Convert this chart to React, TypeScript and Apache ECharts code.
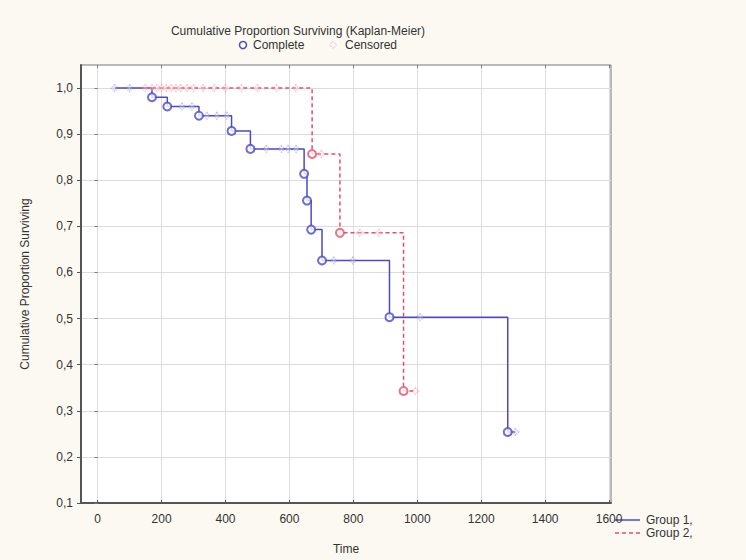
import React, { useEffect, useRef } from "react";
import * as echarts from "echarts";

// Group 1: event times (deaths) and the survival estimate right after each one
const g1EventTime = [170, 218, 317, 419, 478, 646, 655, 668, 702, 913, 1283];
const g1Survival = [0.98, 0.96, 0.94, 0.907, 0.868, 0.814, 0.756, 0.693, 0.626, 0.503, 0.254];
// Group 1: censored observation times
const g1Censored = [53, 100, 264, 295, 342, 373, 404, 528, 575, 596, 621, 739, 798, 1009, 1307];

// Group 2
const g2EventTime = [671, 758, 957];
const g2Survival = [0.857, 0.686, 0.343];
const g2Censored = [149, 170, 185, 200, 215, 230, 245, 260, 280, 300, 330, 365, 400, 450, 500, 560, 620, 700, 820, 880, 994];

const xTicks = [0, 200, 400, 600, 800, 1000, 1200, 1400, 1600];
const yTicks = [0.1, 0.2, 0.3, 0.4, 0.5, 0.6, 0.7, 0.8, 0.9, 1.0];

const BLUE = "#4a4ac8";
const RED = "#e4506a";
const FONT = "Liberation Sans, Arial, sans-serif";
const TEXT = "#333";

function survivalAt(t: number, times: number[], surv: number[]): number {
  let s = 1;
  for (let i = 0; i < times.length; i++) if (times[i] <= t) s = surv[i];
  return s;
}

function stepCurve(times: number[], surv: number[], censored: number[]) {
  const start = Math.min(censored[0], times[0]);
  const end = Math.max(censored[censored.length - 1], times[times.length - 1]);
  const pts: number[][] = [[start, 1]];
  times.forEach((t, i) => pts.push([t, surv[i]]));
  pts.push([end, survivalAt(end, times, surv)]);
  return pts;
}

export default function App() {
  const ref = useRef<HTMLDivElement>(null);

  useEffect(() => {
    if (!ref.current) return;
    const chart = echarts.init(ref.current, null, { renderer: "svg" });

    const fmtY = (v: number) => v.toFixed(1).replace(".", ",");
    const fmtX = (v: number) => String(Math.round(v));
    const legendText = (x: number, y: number, text: string) => ({
      type: "text",
      x,
      y,
      style: { text, font: `12px ${FONT}`, fill: TEXT, verticalAlign: "middle" },
    });

    chart.setOption({
      animation: false,
      backgroundColor: "#fcf9f2",
      textStyle: { fontFamily: FONT, color: TEXT },
      title: {
        text: "Cumulative Proportion Surviving (Kaplan-Meier)",
        left: 293,
        top: 20,
        textAlign: "center",
        textStyle: { fontFamily: FONT, fontSize: 12, fontWeight: "normal", color: TEXT },
      },
      graphic: [
        // header key: complete vs censored markers
        {
          type: "circle",
          shape: { cx: 243, cy: 45, r: 3.5 },
          style: { fill: "#fff", stroke: BLUE, lineWidth: 1.5 },
        },
        legendText(253, 45, "Complete"),
        {
          type: "polygon",
          shape: { points: [[333, 41.5], [336.5, 45], [333, 48.5], [329.5, 45]] },
          style: { fill: "none", stroke: "#c9a9b8", lineWidth: 1, lineDash: [1, 1] },
        },
        legendText(345, 45, "Censored"),
        // group key in the lower right corner
        {
          type: "line",
          shape: { x1: 615, y1: 520, x2: 640, y2: 520 },
          style: { stroke: BLUE, lineWidth: 1.5 },
        },
        legendText(646, 520, "Group 1,"),
        {
          type: "line",
          shape: { x1: 615, y1: 533, x2: 640, y2: 533 },
          style: { stroke: RED, lineWidth: 1.5, lineDash: [4, 3] },
        },
        legendText(646, 533, "Group 2,"),
      ],
      grid: {
        left: 81,
        right: 135,
        top: 65,
        bottom: 57,
        show: true,
        backgroundColor: "#ffffff",
        borderColor: "#777",
        borderWidth: 1,
      },
      xAxis: [
        {
          type: "value",
          min: -52,
          max: 1606,
          name: "Time",
          nameLocation: "middle",
          nameGap: 40,
          nameTextStyle: { fontFamily: FONT, fontSize: 12, color: TEXT },
          axisLine: { show: true, onZero: false, lineStyle: { color: "#555", width: 2 } },
          axisTick: { show: true, inside: true, length: 3, customValues: xTicks, lineStyle: { color: "#555" } },
          axisLabel: {
            customValues: xTicks,
            margin: 10,
            fontFamily: FONT,
            fontSize: 12,
            color: TEXT,
            formatter: fmtX,
          },
          splitLine: { show: true, lineStyle: { color: "#dcdcdc", width: 1 } },
        },
        {
          type: "value",
          position: "top",
          min: -52,
          max: 1606,
          axisLine: { show: false },
          axisTick: { show: true, inside: true, length: 3, customValues: xTicks, lineStyle: { color: "#777" } },
          axisLabel: { show: false },
          splitLine: { show: false },
        },
      ],
      yAxis: [
        {
          type: "value",
          min: 0.1,
          max: 1.05,
          name: "Cumulative Proportion Surviving",
          nameLocation: "middle",
          nameGap: 50,
          nameTextStyle: { fontFamily: FONT, fontSize: 12, color: TEXT },
          axisLine: { show: true, onZero: false, lineStyle: { color: "#555", width: 2 } },
          axisTick: { show: true, inside: false, length: 4, customValues: yTicks, lineStyle: { color: "#555" } },
          axisLabel: {
            customValues: yTicks,
            margin: 8,
            fontFamily: FONT,
            fontSize: 12,
            color: TEXT,
            formatter: fmtY,
          },
          splitLine: { show: true, lineStyle: { color: "#dcdcdc", width: 1 } },
        },
        {
          type: "value",
          position: "right",
          min: 0.1,
          max: 1.05,
          axisLine: { show: false },
          axisTick: { show: true, inside: true, length: 3, customValues: yTicks, lineStyle: { color: "#777" } },
          axisLabel: { show: false },
          splitLine: { show: false },
        },
      ],
      series: [
        {
          name: "Group 1,",
          type: "line",
          step: "end",
          symbol: "none",
          data: stepCurve(g1EventTime, g1Survival, g1Censored),
          lineStyle: { color: BLUE, width: 1.5 },
          itemStyle: { color: BLUE },
          z: 2,
        },
        {
          name: "Group 2,",
          type: "line",
          step: "end",
          symbol: "none",
          data: stepCurve(g2EventTime, g2Survival, g2Censored),
          lineStyle: { color: RED, width: 1.5, type: [4, 3] },
          itemStyle: { color: RED },
          z: 2,
        },
        {
          name: "g1-complete",
          type: "scatter",
          symbol: "emptyCircle",
          symbolSize: 8,
          data: g1EventTime.map((t, i) => [t, g1Survival[i]]),
          itemStyle: { color: BLUE, borderWidth: 1.5 },
          z: 4,
        },
        {
          name: "g2-complete",
          type: "scatter",
          symbol: "emptyCircle",
          symbolSize: 8,
          data: g2EventTime.map((t, i) => [t, g2Survival[i]]),
          itemStyle: { color: RED, borderWidth: 1.2 },
          z: 4,
        },
        {
          name: "g1-censored",
          type: "scatter",
          symbol: "emptyDiamond",
          symbolSize: 6,
          data: g1Censored.map((t) => [t, survivalAt(t, g1EventTime, g1Survival)]),
          itemStyle: { color: BLUE, opacity: 0.3, borderWidth: 1, borderType: [1, 1] },
          z: 3,
        },
        {
          name: "g2-censored",
          type: "scatter",
          symbol: "emptyDiamond",
          symbolSize: 6,
          data: g2Censored.map((t) => [t, survivalAt(t, g2EventTime, g2Survival)]),
          itemStyle: { color: RED, opacity: 0.3, borderWidth: 1, borderType: [1, 1] },
          z: 3,
        },
      ],
    });

    return () => chart.dispose();
  }, []);

  return (
    <div
      ref={ref}
      style={{ position: "fixed", left: 0, top: 0, width: 746, height: 560 }}
    />
  );
}
